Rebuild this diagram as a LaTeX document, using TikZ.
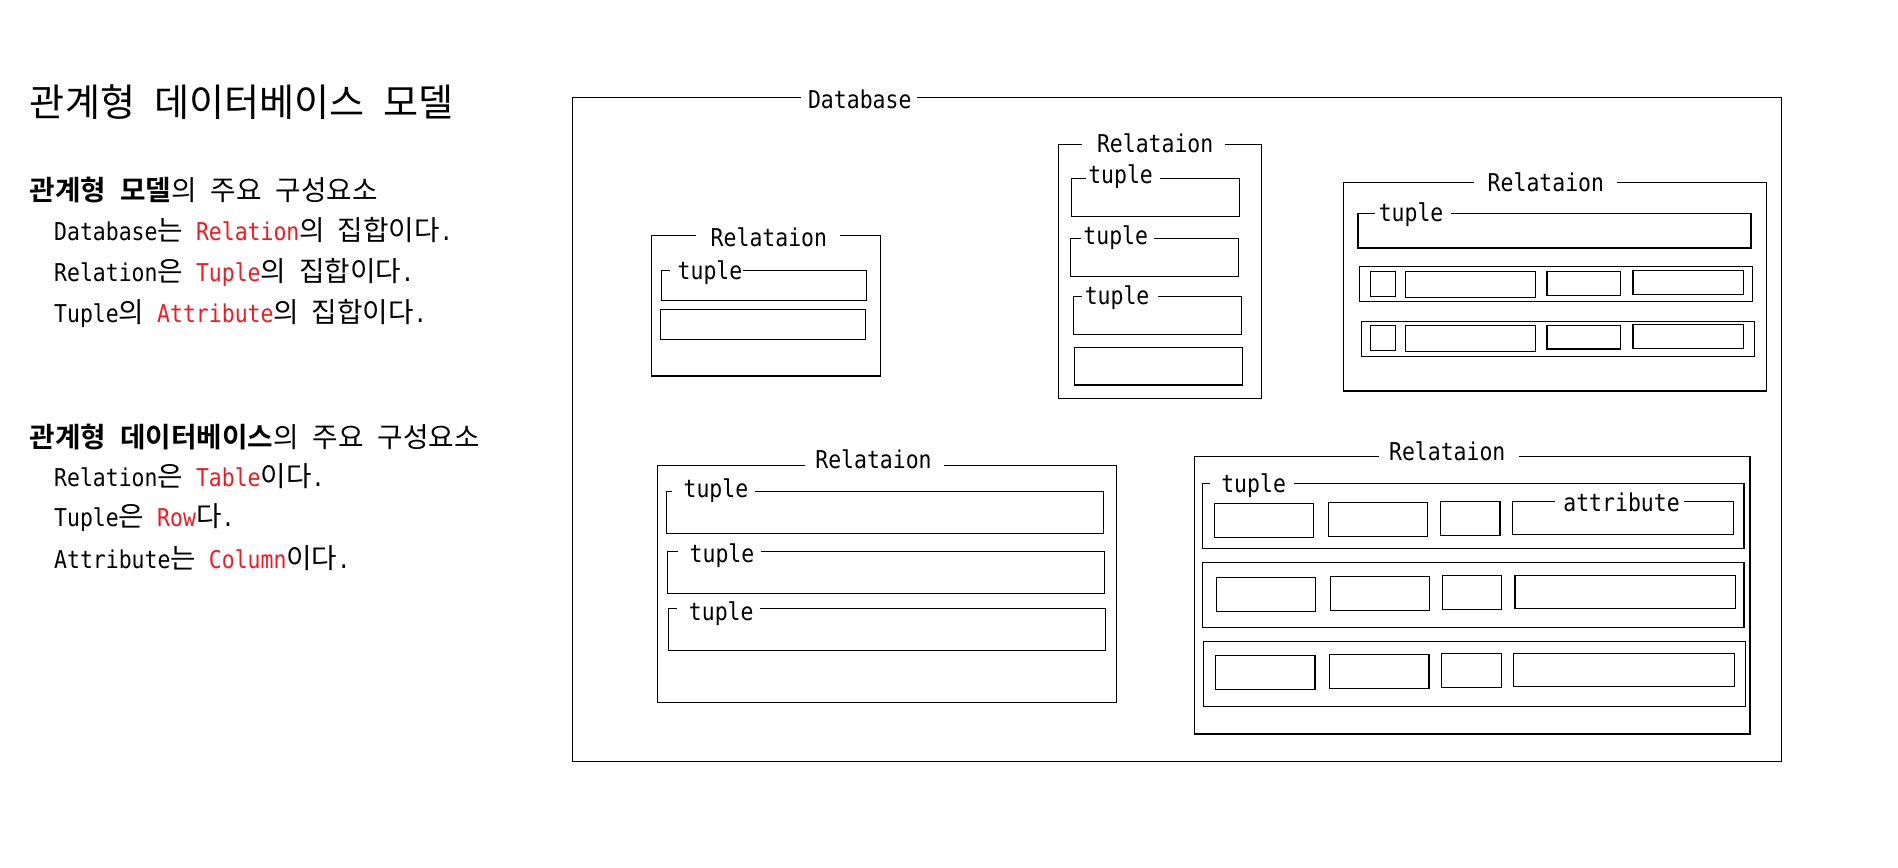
\documentclass[tikz,border=0pt]{standalone}
\usepackage{fontspec}
\setmainfont{DejaVu Sans Mono}[FakeStretch=0.875]
\newfontfamily\kr{Noto Sans CJK KR}[Scale=1.13,BoldFont={Noto Sans CJK KR Bold}]
\definecolor{hl}{RGB}{235,28,36}
\newcommand\ks{\hspace{0.5em}}
\newcommand\K[1]{{\kr #1}}
\newcommand\KB[1]{{\kr\bfseries #1}}
\newcommand\R[1]{\textcolor{hl}{#1}}
\newcommand\gbox[6]{\draw[frame] (#5,#2) -- (#1,#2) -- (#1,#4) -- (#3,#4) -- (#3,#2) -- (#6,#2);}
\tikzset{
  frame/.style={draw=black, line width=0.75pt},
  lab/.style={anchor=base west, inner sep=0pt, font=\fontsize{15.2pt}{18pt}\selectfont},
  txt/.style={anchor=base west, inner sep=0pt, font=\fontsize{15.2pt}{18pt}\selectfont},
}
\begin{document}
\begin{tikzpicture}[x=0.75pt,y=-0.75pt]
\fill[white] (0,0) rectangle (1568,717);
\useasboundingbox (0,0) rectangle (1568,717);

% ---------- left text ----------
\node[txt, font=\kr\fontsize{20.9pt}{24pt}\selectfont] (title) at (24.5,96.5) {관계형\ks 데이터베이스\ks 모델};
\node[txt] (h1) at (24.5,166) {\KB{관계형\ks 모델}\K{의\ks 주요\ks 구성요소}};
\node[txt] (l1) at (44.5,198.8) {Database\K{는} \R{Relation}\K{의} \K{집합이다}.};
\node[txt] (l2) at (44.5,232.7) {Relation\K{은} \R{Tuple}\K{의} \K{집합이다}.};
\node[txt] (l3) at (44.5,266.6) {Tuple\K{의} \R{Attribute}\K{의} \K{집합이다}.};
\node[txt] (h2) at (24.5,369.5) {\KB{관계형\ks 데이터베이스}\K{의\ks 주요\ks 구성요소}};
\node[txt] (l4) at (44.5,402) {Relation\K{은} \R{Table}\K{이다}.};
\node[txt] (l5) at (44.5,435.1) {Tuple\K{은} \R{Row}\K{다}.};
\node[txt] (l6) at (44.5,469.5) {Attribute\K{는} \R{Column}\K{이다}.};

% ---------- Database ----------
\node[lab] (dbL) at (667.3,89.5) {Database};
\gbox{473}{80.4}{1471.5}{629}{662}{757.6}

% ---------- Relation A ----------
\node[lab] (raL) at (586.9,203.8) {Relataion};
\gbox{538.2}{194.4}{727.4}{310.6}{575}{694}
\node[lab] (a1L) at (559.6,230.5) {tuple};
\gbox{546.3}{223.6}{716}{248.1}{553.7}{613.8}
\draw[frame] (545.6,255.5) rectangle (714.9,280.3);

% ---------- Relation B ----------
\node[lab] (rbL) at (906,126.1) {Relataion};
\gbox{874.2}{119.5}{1042}{329}{894}{1012}
\node[lab] (b1L) at (898.8,152) {tuple};
\gbox{885.2}{147.6}{1024}{178.7}{897}{958.6}
\node[lab] (b2L) at (894.8,202.4) {tuple};
\gbox{884.2}{197.2}{1023.2}{228.3}{892.8}{953.2}
\node[lab] (b3L) at (895.9,251.4) {tuple};
\gbox{886.8}{245.1}{1025.8}{276.2}{893.7}{956.8}
\draw[frame] (887.5,287) rectangle (1026.5,318);

% ---------- Relation C ----------
\node[lab] (rcL) at (1228.8,158.3) {Relataion};
\gbox{1109.6}{150.6}{1459.5}{323}{1217.7}{1335.7}
\node[lab] (c1L) at (1138.8,183.1) {tuple};
\gbox{1121.9}{176.5}{1446.6}{204.9}{1136.2}{1198.4}
\draw[frame] (1123,220) rectangle (1447.8,249);
\draw[frame] (1132.1,224.1) rectangle (1153,244.8);
\draw[frame] (1161,224.1) rectangle (1268.6,245.7);
\draw[frame] (1278.1,224.1) rectangle (1338.9,244);
\draw[frame] (1349,223.3) rectangle (1440.4,243.2);
\draw[frame] (1124.7,265.5) rectangle (1449.5,294.4);
\draw[frame] (1132.1,268.8) rectangle (1153,289.4);
\draw[frame] (1161,268.8) rectangle (1268.6,290.2);
\draw[frame] (1278.1,268.8) rectangle (1338.9,288.4);
\draw[frame] (1349,268) rectangle (1440.4,288);

% ---------- Relation D ----------
\node[lab] (rdL) at (673.3,387.4) {Relataion};
\gbox{543}{384.4}{922.5}{580.2}{665}{779.8}
\node[lab] (d1L) at (564.5,410.8) {tuple};
\gbox{550.4}{406.2}{911.5}{440.6}{555.1}{623.7}
\node[lab] (d2L) at (569.5,464.5) {tuple};
\gbox{551.3}{455.5}{912.3}{490.2}{559.8}{628.7}
\node[lab] (d3L) at (568.9,512.2) {tuple};
\gbox{552.4}{502.8}{913.1}{537.3}{559}{627.8}

% ---------- Relation E ----------
\node[lab] (reL) at (1147.3,380.6) {Relataion};
\gbox{986.8}{377.3}{1445.8}{606.4}{1139.4}{1254.6}
\node[lab] (e1L) at (1008.7,406.7) {tuple};
\gbox{993.1}{399.3}{1440.7}{453}{999.2}{1068.8}
\draw[frame] (1003.3,415.8) rectangle (1085.2,443.9);
\draw[frame] (1097.6,415) rectangle (1179.6,443);
\draw[frame] (1190,414.1) rectangle (1239.1,442.2);
\node[lab] (attL) at (1291.3,422.2) {attribute};
\gbox{1249.8}{414.1}{1431.9}{441.4}{1285}{1391.3}
\draw[frame] (993.1,464.8) rectangle (1440.7,518.2);
\draw[frame] (1004.9,477) rectangle (1086.8,505);
\draw[frame] (1099.2,476.1) rectangle (1181.2,504.2);
\draw[frame] (1191.9,475.3) rectangle (1240.7,503.4);
\draw[frame] (1251.5,475.3) rectangle (1433.5,502.5);
\draw[frame] (994.1,529.8) rectangle (1441.7,583.5);
\draw[frame] (1003.9,541.4) rectangle (1086.3,569.5);
\draw[frame] (1098.2,540.5) rectangle (1180.5,568.6);
\draw[frame] (1191,539.7) rectangle (1240.1,567.8);
\draw[frame] (1250.5,539.7) rectangle (1432.8,567);
\end{tikzpicture}
\end{document}
